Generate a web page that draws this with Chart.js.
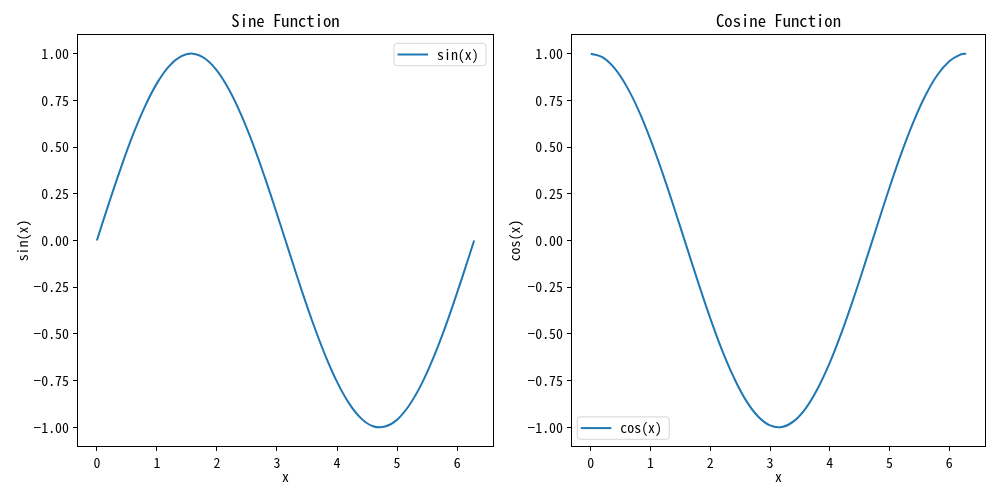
<!DOCTYPE html>
<html><head><meta charset="utf-8">
<script src="https://cdn.jsdelivr.net/npm/chart.js@4"></script>
<style>
html,body{margin:0;padding:0;background:#fff;width:1000px;height:500px;overflow:hidden}
canvas{position:absolute;top:0}
#c1{left:0}
#c2{left:500px}
</style></head><body>
<canvas id="c1" width="500" height="500"></canvas>
<canvas id="c2" width="500" height="500"></canvas>
<script>
const xValues = [0, 0.2, 0.4, 0.6, 0.8, 1.0, 1.2, 1.4, 1.6, 1.8, 2.0, 2.2, 2.4, 2.6, 2.8, 3.0, 3.2, 3.4, 3.6, 3.8, 4.0, 4.2, 4.4, 4.6, 4.8, 5.0, 5.2, 5.4, 5.6, 5.8, 6.0, 6.2, 6.283];
const sinValues = [0, 0.199, 0.389, 0.565, 0.717, 0.841, 0.932, 0.985, 1.000, 0.974, 0.909, 0.808, 0.675, 0.516, 0.335, 0.141, -0.058, -0.256, -0.443, -0.612, -0.757, -0.872, -0.952, -0.994, -0.996, -0.959, -0.883, -0.773, -0.631, -0.465, -0.279, -0.083, 0];
const cosValues = [1, 0.980, 0.921, 0.825, 0.697, 0.540, 0.362, 0.170, -0.029, -0.227, -0.416, -0.589, -0.737, -0.857, -0.942, -0.990, -0.998, -0.967, -0.897, -0.791, -0.654, -0.490, -0.307, -0.112, 0.087, 0.284, 0.469, 0.635, 0.776, 0.886, 0.960, 0.997, 1];
const xTicks = [0, 1, 2, 3, 4, 5, 6];
const yTicks = [-1, -0.75, -0.5, -0.25, 0, 0.25, 0.5, 0.75, 1];
const titles = ['Sine Function', 'Cosine Function'];
const seriesLabels = ['sin(x)', 'cos(x)'];
const yLabels = ['sin(x)', 'cos(x)'];
const xLabel = 'x';

const FONT = '"Noto Sans Mono CJK SC", "DejaVu Sans Mono", monospace';
const BLUE = '#1f77b4';

function fmtY(v) { return (v < 0 ? '\u2212' : '') + Math.abs(v).toFixed(2); }

const framePlugin = {
  id: 'frame',
  afterDraw(chart, args, opts) {
    const ctx = chart.ctx, a = chart.chartArea;
    ctx.save();
    ctx.strokeStyle = '#000';
    ctx.lineWidth = 1;
    ctx.strokeRect(Math.round(a.left) - 0.5, Math.round(a.top) - 0.5, Math.round(a.right - a.left) + 1, Math.round(a.bottom - a.top) + 1);
    ctx.fillStyle = '#000';
    ctx.font = '16.67px ' + FONT;
    ctx.textAlign = 'center';
    ctx.textBaseline = 'middle';
    ctx.fillText(opts.title, (a.left + a.right) / 2, 21);
    const w = 92, h = 22.4;
    let bx, by;
    if (opts.legendPos === 'ne') { bx = a.right - 7 - w; by = a.top + 8.3; }
    else { bx = a.left + 5.3; by = a.bottom - 6.7 - h; }
    ctx.beginPath();
    ctx.roundRect(bx, by, w, h, 3);
    ctx.fillStyle = 'rgba(255,255,255,0.8)';
    ctx.fill();
    ctx.strokeStyle = 'rgba(204,204,204,0.8)';
    ctx.lineWidth = 1;
    ctx.stroke();
    const ds = chart.data.datasets[0];
    ctx.beginPath();
    ctx.moveTo(bx + 3.5, by + h / 2);
    ctx.lineTo(bx + 34, by + h / 2);
    ctx.strokeStyle = ds.borderColor;
    ctx.lineWidth = 2;
    ctx.stroke();
    ctx.fillStyle = '#000';
    ctx.font = '13.9px ' + FONT;
    ctx.textAlign = 'left';
    ctx.fillText(ds.label, bx + 43, by + h / 2);
    ctx.restore();
  }
};

function makeChart(id, yData, idx, yAxisWidth, yTitlePad, legendPos, rightPad) {
  return new Chart(document.getElementById(id), {
    type: 'line',
    data: {
      datasets: [{
        label: seriesLabels[idx],
        data: xValues.map((x, i) => ({ x: x, y: yData[i] })),
        borderColor: BLUE,
        borderWidth: 2,
        pointRadius: 0,
        tension: 0.4,
        fill: false
      }]
    },
    options: {
      responsive: false,
      animation: false,
      devicePixelRatio: 1,
      layout: { padding: { top: 35, right: rightPad, left: 0, bottom: 0 } },
      plugins: {
        legend: { display: false },
        title: { display: false },
        tooltip: { enabled: false },
        frame: { title: titles[idx], legendPos: legendPos }
      },
      scales: {
        x: {
          type: 'linear', min: -0.31416, max: 6.59734,
          border: { display: false },
          grid: { drawOnChartArea: false, tickLength: 5, color: '#000', tickColor: '#000', tickWidth: 1 },
          afterBuildTicks: s => { s.ticks = xTicks.map(v => ({ value: v })); },
          ticks: { font: { family: FONT, size: 13.9 }, color: '#000', padding: 3, maxRotation: 0, autoSkip: false, callback: v => String(v) },
          title: { display: true, text: xLabel, color: '#000', font: { family: FONT, size: 13.9, lineHeight: 1.2 }, padding: { top: 0, bottom: 14.7 } },
          afterFit: s => { s.height = 54; }
        },
        y: {
          type: 'linear', min: -1.1, max: 1.1,
          border: { display: false },
          grid: { drawOnChartArea: false, tickLength: 5, color: '#000', tickColor: '#000', tickWidth: 1 },
          afterBuildTicks: s => { s.ticks = yTicks.map(v => ({ value: v })); },
          ticks: { font: { family: FONT, size: 13.9 }, color: '#000', padding: 4, autoSkip: false, callback: v => fmtY(v) },
          title: { display: true, text: yLabels[idx], color: '#000', font: { family: FONT, size: 13.9, lineHeight: 1.2 }, padding: { top: yTitlePad, bottom: 0 } },
          afterFit: s => { s.width = yAxisWidth; }
        }
      }
    },
    plugins: [framePlugin]
  });
}

makeChart('c1', sinValues, 0, 78, 14.4, 'ne', 7);
makeChart('c2', cosValues, 1, 72, 6, 'sw', 15);
</script>
</body></html>
